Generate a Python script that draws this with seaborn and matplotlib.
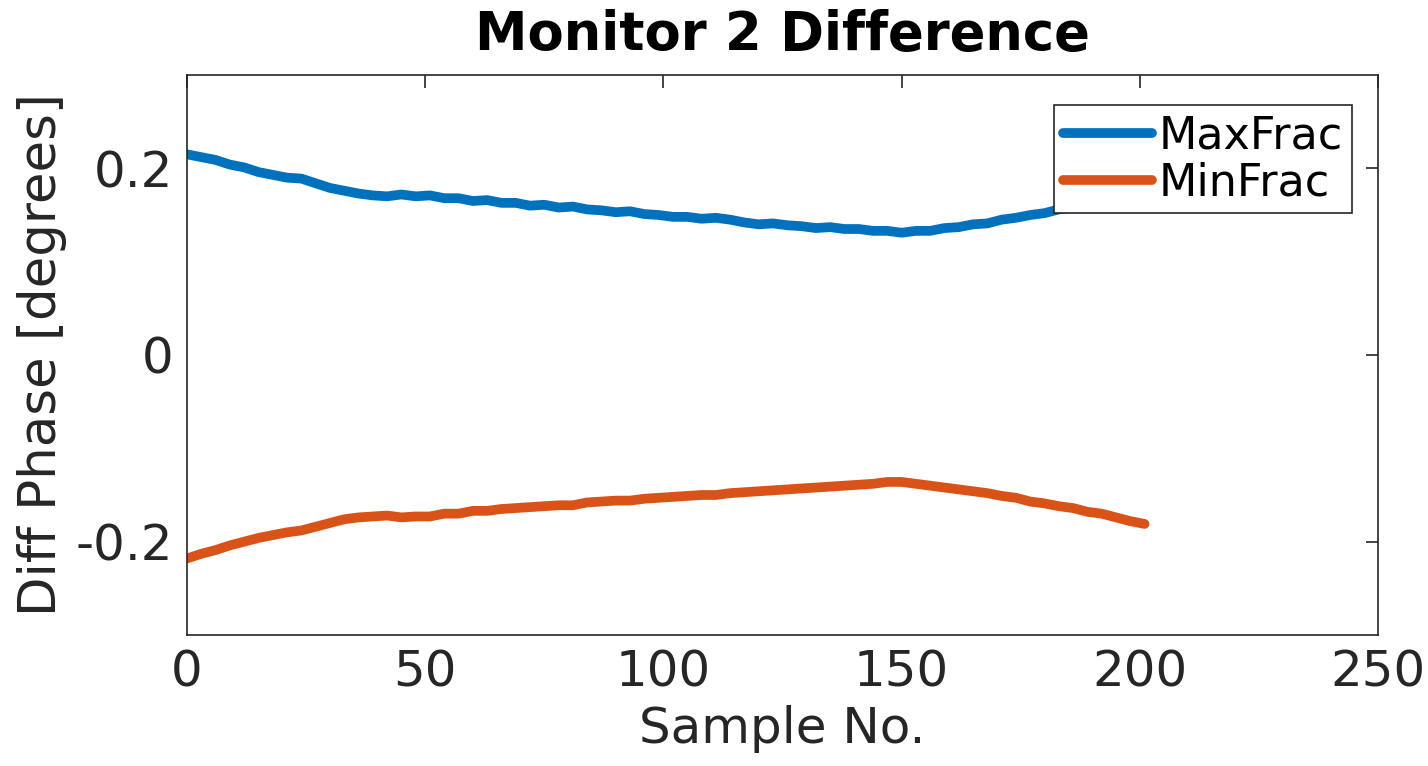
import numpy as np
import pandas as pd
import matplotlib
matplotlib.use("Agg")
import matplotlib.pyplot as plt
import seaborn as sns

samples = list(range(0, 202, 3))
max_frac = [0.215, 0.212, 0.209, 0.204, 0.201, 0.196, 0.193, 0.190, 0.189, 0.184,
            0.179, 0.176, 0.173, 0.171, 0.170, 0.172, 0.170, 0.171, 0.168, 0.168,
            0.165, 0.166, 0.163, 0.163, 0.160, 0.161, 0.158, 0.159, 0.156, 0.155,
            0.153, 0.154, 0.151, 0.150, 0.148, 0.148, 0.146, 0.147, 0.145, 0.142,
            0.140, 0.141, 0.139, 0.138, 0.136, 0.137, 0.135, 0.135, 0.133, 0.133,
            0.131, 0.133, 0.133, 0.136, 0.137, 0.140, 0.141, 0.145, 0.147, 0.150,
            0.152, 0.156, 0.158, 0.162, 0.165, 0.168, 0.172, 0.175]
min_frac = [-0.218, -0.213, -0.209, -0.204, -0.200, -0.196, -0.193, -0.190, -0.188, -0.184,
            -0.180, -0.176, -0.174, -0.173, -0.172, -0.174, -0.173, -0.173, -0.170, -0.170,
            -0.167, -0.167, -0.165, -0.164, -0.163, -0.162, -0.161, -0.161, -0.158, -0.157,
            -0.156, -0.156, -0.154, -0.153, -0.152, -0.151, -0.150, -0.150, -0.148, -0.147,
            -0.146, -0.145, -0.144, -0.143, -0.142, -0.141, -0.140, -0.139, -0.138, -0.136,
            -0.136, -0.138, -0.140, -0.142, -0.144, -0.146, -0.148, -0.151, -0.153, -0.157,
            -0.159, -0.162, -0.164, -0.168, -0.170, -0.174, -0.178, -0.181]
series_names = ["MaxFrac", "MinFrac"]
x_ticks = [0, 50, 100, 150, 200, 250]
y_ticks = [-0.2, 0, 0.2]
y_tick_labels = ["-0.2", "0", "0.2"]

df = pd.DataFrame({
    "Sample": samples * 2,
    "Value": max_frac + min_frac,
    "Series": [series_names[0]] * len(samples) + [series_names[1]] * len(samples),
})

sns.set_style("white")
plt.rcParams["font.family"] = ["DejaVu Sans"]
plt.rcParams["axes.unicode_minus"] = False

fig = plt.figure(figsize=(14.28, 7.66), dpi=100)
ax = fig.add_axes([187 / 1428, 1 - 635 / 766, (1378 - 187) / 1428, (635 - 75) / 766])

palette = {"MaxFrac": "#0072BD", "MinFrac": "#D95319"}
sns.lineplot(data=df, x="Sample", y="Value", hue="Series", palette=palette,
             linewidth=7, ax=ax, legend=True)

ax.set_xlim(0, 250)
ax.set_ylim(-0.3, 0.3)
ax.set_xticks(x_ticks)
ax.set_yticks(y_ticks)
ax.set_yticklabels(y_tick_labels)
ax.tick_params(direction="in", length=9, width=1.2, top=True, right=True,
               labelsize=36, colors="#262626", pad=10)
for s in ax.spines.values():
    s.set_color("#262626")
    s.set_linewidth(1.2)

ax.set_xlabel("Sample No.", fontsize=36, color="#262626", labelpad=6)
ax.set_ylabel("Diff Phase [degrees]", fontsize=37, color="#262626", labelpad=6)
ax.set_title("Monitor 2 Difference", fontsize=38, fontweight="bold", pad=18, color="black")

leg = ax.legend(loc="upper right", bbox_to_anchor=(0.978, 0.946), fontsize=32,
                frameon=True, fancybox=False, framealpha=1, handlelength=2.0,
                handletextpad=0.15, borderpad=0.2, labelspacing=0.1, borderaxespad=0)
leg.get_frame().set_edgecolor("#262626")
leg.get_frame().set_linewidth(1.2)
leg.set_zorder(10)
for t in leg.get_texts():
    t.set_color("black")
for line in leg.get_lines():
    line.set_linewidth(7)

fig.savefig("out.png", dpi=100)
